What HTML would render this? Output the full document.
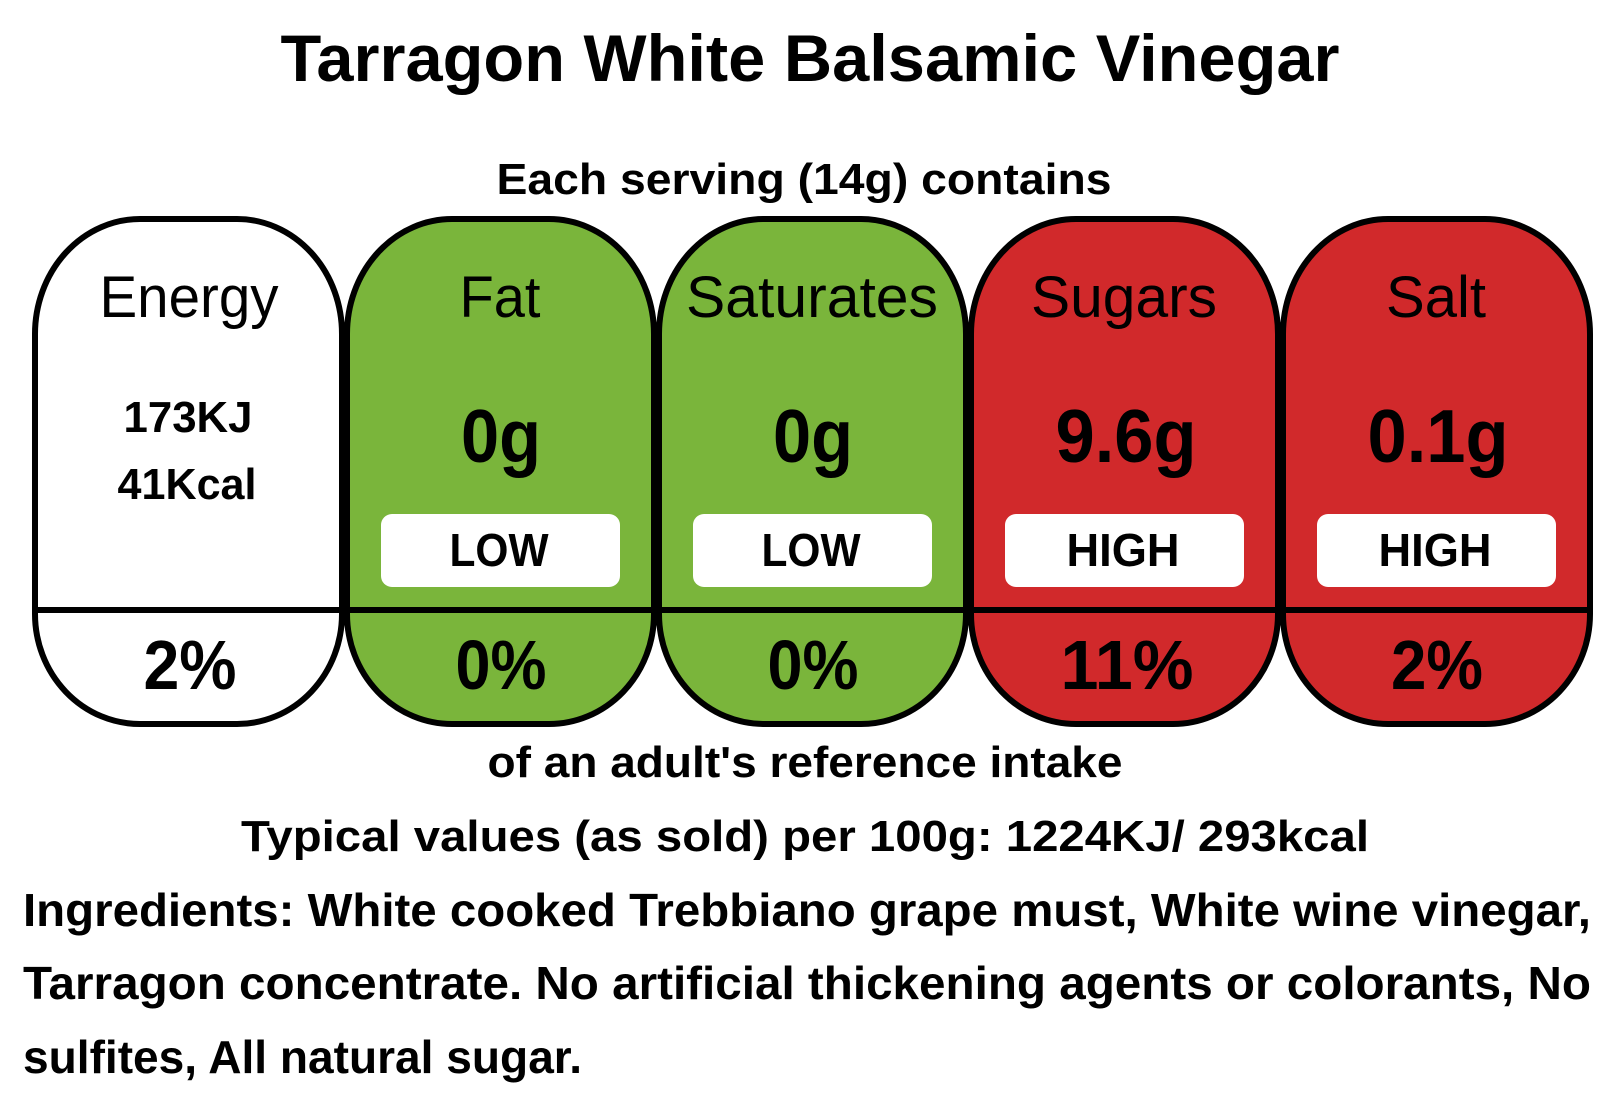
<!DOCTYPE html>
<html><head><meta charset="utf-8"><style>html,body{margin:0;padding:0;background:#fff}svg{display:block}text{font-family:"Liberation Sans",sans-serif;font-weight:bold;fill:#000}text.n{font-weight:normal}</style></head><body>
<svg width="1620" height="1110" viewBox="0 0 1620 1110" xmlns="http://www.w3.org/2000/svg">
<rect width="1620" height="1110" fill="#fff"/>
<text x="810" y="81" font-size="66" text-anchor="middle" textLength="1059" lengthAdjust="spacingAndGlyphs">Tarragon White Balsamic Vinegar</text>
<text x="804" y="194" font-size="44" text-anchor="middle" textLength="615" lengthAdjust="spacingAndGlyphs">Each serving (14g) contains</text>
<g stroke="#000" stroke-width="6">
<path d="M35,334 A105 115 0 0 1 140,219 H237 A105 115 0 0 1 342,334 V614 A105 110 0 0 1 237,724 H140 A105 110 0 0 1 35,614 Z" fill="#fff"/>
<path d="M347,334 A105 115 0 0 1 452,219 H549 A105 115 0 0 1 654,334 V614 A105 110 0 0 1 549,724 H452 A105 110 0 0 1 347,614 Z" fill="#7ab53b"/>
<path d="M659,334 A105 115 0 0 1 764,219 H861 A105 115 0 0 1 966,334 V614 A105 110 0 0 1 861,724 H764 A105 110 0 0 1 659,614 Z" fill="#7ab53b"/>
<path d="M971,334 A105 115 0 0 1 1076,219 H1173 A105 115 0 0 1 1278,334 V614 A105 110 0 0 1 1173,724 H1076 A105 110 0 0 1 971,614 Z" fill="#d1292b"/>
<path d="M1283,334 A105 115 0 0 1 1388,219 H1485 A105 115 0 0 1 1590,334 V614 A105 110 0 0 1 1485,724 H1388 A105 110 0 0 1 1283,614 Z" fill="#d1292b"/>
<line x1="35" y1="610" x2="1590" y2="610"/>
</g>
<g fill="#fff">
<rect x="381" y="514" width="239" height="73" rx="11"/>
<rect x="693" y="514" width="239" height="73" rx="11"/>
<rect x="1005" y="514" width="239" height="73" rx="11"/>
<rect x="1317" y="514" width="239" height="73" rx="11"/>
</g>
<g font-size="58" text-anchor="middle">
<text class="n" x="189" y="317" textLength="179" lengthAdjust="spacingAndGlyphs">Energy</text>
<text class="n" x="500" y="317" textLength="81" lengthAdjust="spacingAndGlyphs">Fat</text>
<text class="n" x="812" y="317" textLength="252" lengthAdjust="spacingAndGlyphs">Saturates</text>
<text class="n" x="1124" y="317" textLength="186" lengthAdjust="spacingAndGlyphs">Sugars</text>
<text class="n" x="1436" y="317" textLength="100" lengthAdjust="spacingAndGlyphs">Salt</text>
</g>
<g text-anchor="middle">
<text x="188" y="432" font-size="44" textLength="129" lengthAdjust="spacingAndGlyphs">173KJ</text>
<text x="187" y="499" font-size="44" textLength="139" lengthAdjust="spacingAndGlyphs">41Kcal</text>
<text x="501" y="462" font-size="75" textLength="80" lengthAdjust="spacingAndGlyphs">0g</text>
<text x="813" y="462" font-size="75" textLength="80" lengthAdjust="spacingAndGlyphs">0g</text>
<text x="1126" y="462" font-size="75" textLength="141" lengthAdjust="spacingAndGlyphs">9.6g</text>
<text x="1438" y="462" font-size="75" textLength="141" lengthAdjust="spacingAndGlyphs">0.1g</text>
<text x="499" y="566" font-size="46" textLength="99" lengthAdjust="spacingAndGlyphs">LOW</text>
<text x="811" y="566" font-size="46" textLength="99" lengthAdjust="spacingAndGlyphs">LOW</text>
<text x="1123" y="566" font-size="46" textLength="113" lengthAdjust="spacingAndGlyphs">HIGH</text>
<text x="1435" y="566" font-size="46" textLength="113" lengthAdjust="spacingAndGlyphs">HIGH</text>
<text x="190" y="689" font-size="70" textLength="93" lengthAdjust="spacingAndGlyphs">2%</text>
<text x="501" y="689" font-size="70" textLength="91" lengthAdjust="spacingAndGlyphs">0%</text>
<text x="813" y="689" font-size="70" textLength="91" lengthAdjust="spacingAndGlyphs">0%</text>
<text x="1127" y="689" font-size="70" textLength="133" lengthAdjust="spacingAndGlyphs">11%</text>
<text x="1437" y="689" font-size="70" textLength="92" lengthAdjust="spacingAndGlyphs">2%</text>
<text x="805" y="777" font-size="44" textLength="635" lengthAdjust="spacingAndGlyphs">of an adult's reference intake</text>
<text x="805" y="851" font-size="44" textLength="1128" lengthAdjust="spacingAndGlyphs">Typical values (as sold) per 100g: 1224KJ/ 293kcal</text>
</g>
<text x="23" y="926" font-size="46" textLength="1568" lengthAdjust="spacingAndGlyphs">Ingredients: White cooked Trebbiano grape must, White wine vinegar,</text>
<text x="23" y="999" font-size="46" textLength="1568" lengthAdjust="spacingAndGlyphs">Tarragon concentrate. No artificial thickening agents or colorants, No</text>
<text x="23" y="1073" font-size="46" textLength="559" lengthAdjust="spacingAndGlyphs">sulfites, All natural sugar.</text>
</svg>
</body></html>
